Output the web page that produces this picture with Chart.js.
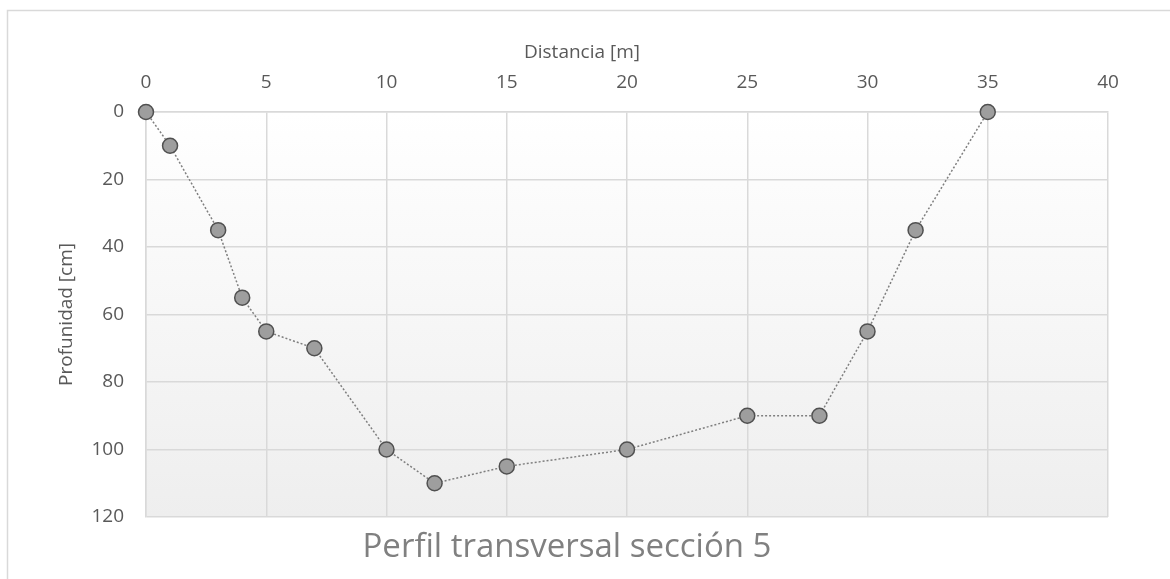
<!DOCTYPE html>
<html>
<head>
<meta charset="utf-8">
<script src="https://cdn.jsdelivr.net/npm/chart.js@4"></script>
<style>
  html, body { margin: 0; padding: 0; background: #ffffff; }
  #wrap { width: 1170px; height: 579px; position: relative; }
</style>
</head>
<body>
<div id="wrap"><canvas id="c" width="1170" height="579"></canvas></div>
<script>
const distancia = [0, 1, 3, 4, 5, 7, 10, 12, 15, 20, 25, 28, 30, 32, 35];
const profundidad = [0, 10, 35, 55, 65, 70, 100, 110, 105, 100, 90, 90, 65, 35, 0];
const xTicks = [0, 5, 10, 15, 20, 25, 30, 35, 40];
const yTicks = [0, 20, 40, 60, 80, 100, 120];
const chartTitle = 'Perfil transversal sección 5';
const xTitle = 'Distancia [m]';
const yTitle = 'Profunidad [cm]';

const points = distancia.map((x, i) => ({ x: x, y: profundidad[i] }));
const FONT = "'Open Sans', 'Liberation Sans', sans-serif";

const decoPlugin = {
  id: 'deco',
  beforeDraw(chart) {
    const { ctx, chartArea: a } = chart;
    ctx.save();
    const g = ctx.createLinearGradient(0, a.top, 0, a.bottom);
    g.addColorStop(0, '#ffffff');
    g.addColorStop(1, '#eeeeee');
    ctx.fillStyle = g;
    ctx.fillRect(a.left, a.top, a.right - a.left, a.bottom - a.top);
    ctx.restore();
  },
  afterDraw(chart) {
    const { ctx, chartArea: a } = chart;
    ctx.save();
    ctx.strokeStyle = '#d9d9d9';
    ctx.lineWidth = 1.5;
    ctx.strokeRect(7.5, 10.5, 1180, 600);
    ctx.fillStyle = '#595959';
    ctx.textAlign = 'center';
    ctx.textBaseline = 'middle';
    ctx.font = "19px " + FONT;
    ctx.fillText(xTitle, 582, 53);
    ctx.save();
    ctx.translate(67, (a.top + a.bottom) / 2);
    ctx.rotate(-Math.PI / 2);
    ctx.fillText(yTitle, 0, 0);
    ctx.restore();
    ctx.fillStyle = '#808080';
    ctx.font = "33px " + FONT;
    ctx.fillText(chartTitle, 567, 548);
    ctx.restore();
  }
};

new Chart(document.getElementById('c'), {
  type: 'scatter',
  data: {
    datasets: [{
      data: points,
      showLine: true,
      clip: false,
      borderColor: '#7f7f7f',
      borderWidth: 1.5,
      borderDash: [2, 2],
      pointRadius: 7.5,
      pointHoverRadius: 7.5,
      pointBackgroundColor: '#9e9e9e',
      pointBorderColor: '#505050',
      pointBorderWidth: 1.5,
      tension: 0
    }]
  },
  options: {
    responsive: false,
    animation: false,
    layout: { padding: { left: 0, right: 62, top: 0, bottom: 62 } },
    plugins: {
      legend: { display: false },
      tooltip: { enabled: false },
      title: { display: false }
    },
    scales: {
      x: {
        type: 'linear',
        position: 'top',
        min: 0, max: 40,
        afterBuildTicks(scale) { scale.ticks = xTicks.map(v => ({ value: v })); },
        afterFit(scale) { scale.height = 112; },
        ticks: { color: '#595959', font: { family: FONT, size: 19 }, padding: 18 },
        grid: { color: '#d9d9d9', lineWidth: 1.5, drawTicks: false },
        border: { color: '#d9d9d9', width: 1.5 },
        title: { display: false }
      },
      y: {
        type: 'linear',
        reverse: true,
        min: 0, max: 120,
        afterBuildTicks(scale) { scale.ticks = yTicks.map(v => ({ value: v })); },
        afterFit(scale) { scale.width = 146; },
        ticks: { color: '#595959', font: { family: FONT, size: 19 }, padding: 22 },
        grid: { color: '#d9d9d9', lineWidth: 1.5, drawTicks: false },
        border: { color: '#d9d9d9', width: 1.5 },
        title: { display: false }
      }
    }
  },
  plugins: [decoPlugin]
});
</script>
</body>
</html>
